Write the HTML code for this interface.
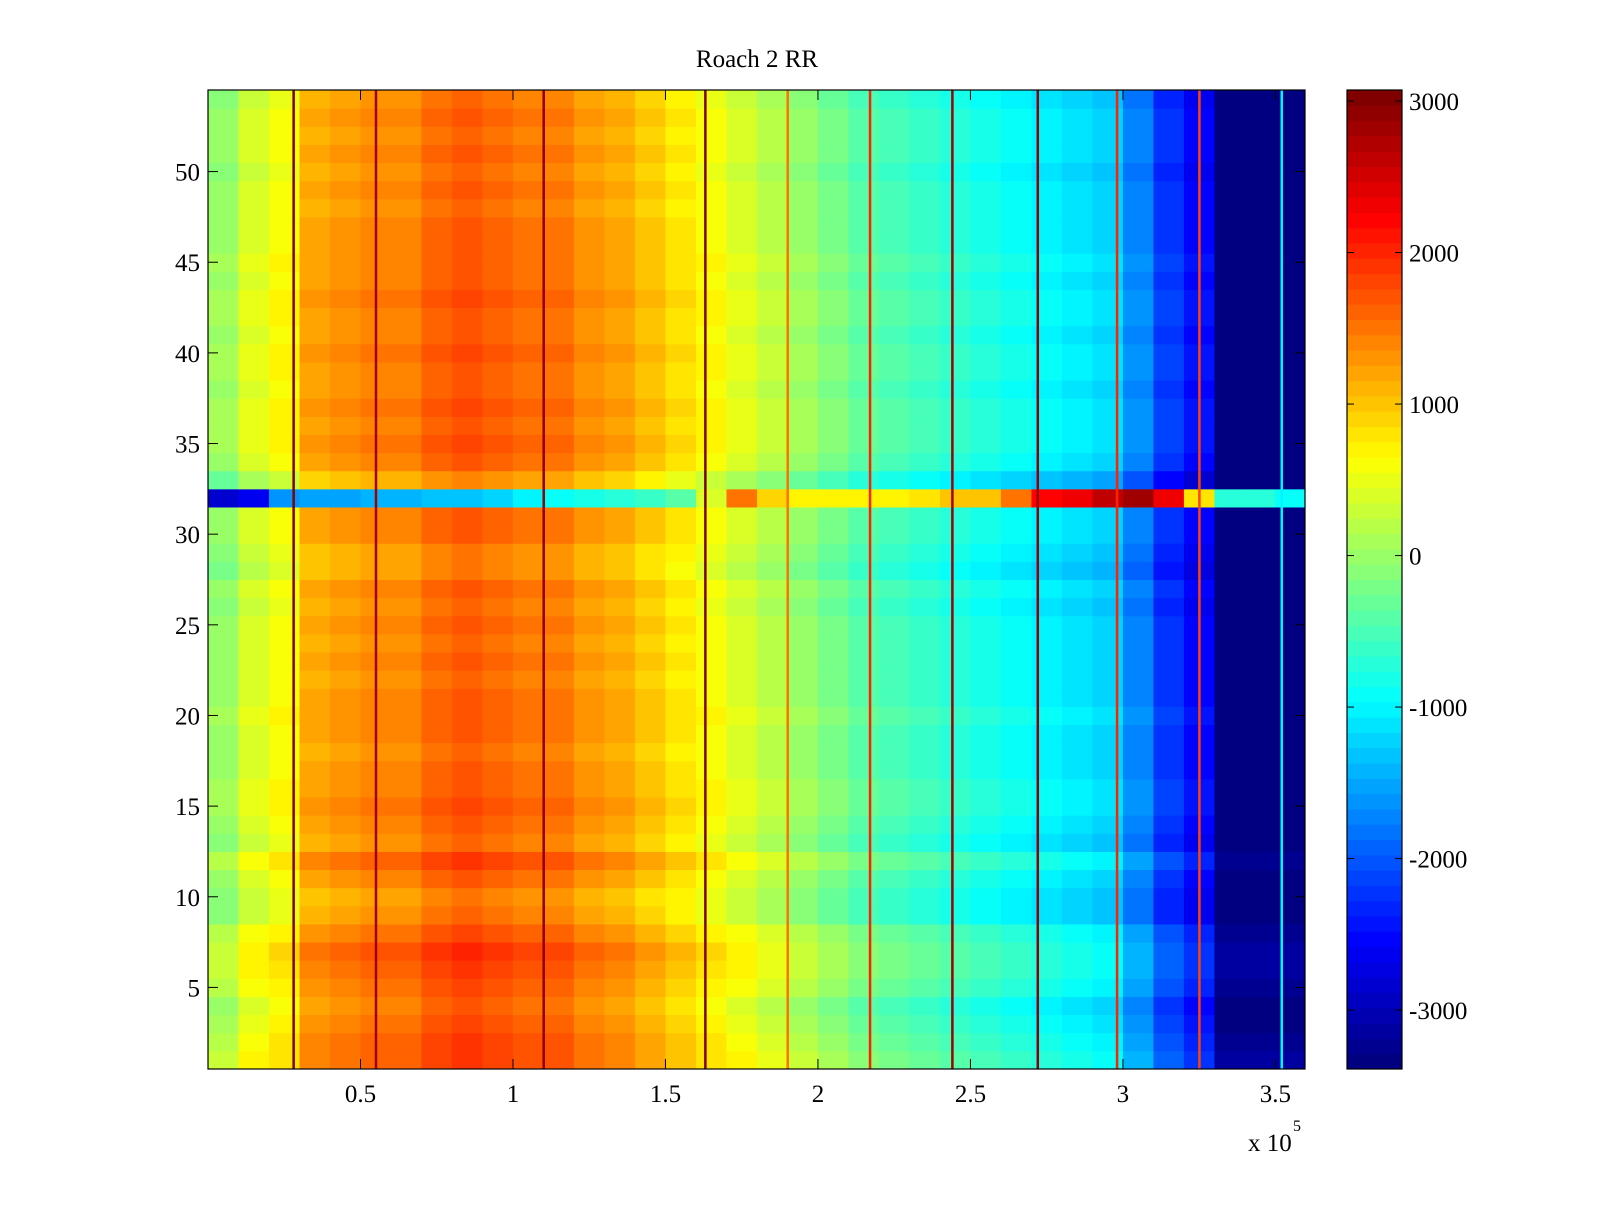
<!DOCTYPE html>
<html><head><meta charset="utf-8"><style>
body{margin:0;background:#fff;width:1600px;height:1200px;overflow:hidden;font-family:"Liberation Serif",serif;}
svg text{font-family:"Liberation Serif",serif;font-size:25px;fill:#000;}
</style></head><body>
<svg id="chart" width="1600" height="1200" xmlns="http://www.w3.org/2000/svg">
<text x="757" y="67" text-anchor="middle">Roach 2 RR</text>
<g id="cells"></g>
<g id="cbar"></g>
<g id="axes"></g>
<text x="1248" y="1151">x 10</text>
<text x="1293" y="1131" style="font-size:16px">5</text>
</svg>
<script>
// x bins of 0.1e5 each (0..3.6e5)
const colProfile=[0,400,600,1200,1300,1400,1400,1600,1700,1600,1500,1500,1300,1200,1000,800,600,400,200,0,-200,-400,-500,-600,-700,-800,-900,-1000,-1100,-1200,-1700,-2200,-2500,-3400,-3400,-3400];
// row offsets rows 1..54
const rowOffset=[250,200,100,0,150,250,300,150,-100,-150,0,200,-100,0,100,50,0,-50,0,50,0,-50,0,-50,0,-100,0,-200,-150,0,0,0,-300,0,100,50,100,0,50,100,0,50,100,0,50,0,0,-50,0,-100,0,-50,0,-100];
// special row 32 values per bin
const row32=[-2800,-2600,-1600,-1500,-1500,-1400,-1400,-1300,-1300,-1200,-1000,-900,-800,-700,-600,-400,400,1500,900,700,700,700,700,800,1000,1000,1500,2200,2300,2600,2800,2300,800,-700,-700,-900];
// thin vertical line features (x in units of 1e5, value)
const lineX=[0.28,0.55,1.1,1.63,1.9,2.17,2.44,2.72,2.98,3.25,3.52];
const lineV=[3000,2800,2900,3000,1500,2000,2800,2900,2000,1800,-1000];
const xTicks=[0.5,1,1.5,2,2.5,3,3.5], xTickLabels=["0.5","1","1.5","2","2.5","3","3.5"];
const yTicks=[5,10,15,20,25,30,35,40,45,50];
const cTicks=[3000,2000,1000,0,-1000,-2000,-3000];

const L=208,R=1305,T=90,B=1069,XMAX=3.597,CMIN=-3389,CMAX=3073;
const xs=v=>L+v/XMAX*(R-L);
const rowH=(B-T)/54;
const ys=r=>B-r*rowH;
function jet(v){let t=(v-CMIN)/(CMAX-CMIN);t=Math.max(0,Math.min(1,t));t=Math.floor(t*63.999)/63;
 const f=x=>Math.round(255*Math.max(0,Math.min(1,1.5-Math.abs(4*t-x))));return `rgb(${f(3)},${f(2)},${f(1)})`;}
const NS="http://www.w3.org/2000/svg";
function mk(tag,attrs,parent){const e=document.createElementNS(NS,tag);for(const k in attrs)e.setAttribute(k,attrs[k]);parent.appendChild(e);return e;}
const cells=document.getElementById('cells');
for(let r=1;r<=54;r++){for(let j=0;j<colProfile.length;j++){
 const v=r===32?row32[j]:colProfile[j]+rowOffset[r-1];
 const x0=xs(j*0.1),x1=Math.min(R,xs((j+1)*0.1));
 if(x1<=x0)continue;
 const e=mk('rect',{x:x0,y:ys(r),width:x1-x0+0.5,height:rowH+0.5,fill:jet(v)},cells);
 
 
}}
for(let i=0;i<lineX.length;i++){
 const e=mk('rect',{x:xs(lineX[i])-1,y:T,width:2.5,height:B-T,fill:jet(lineV[i])},cells);
 
 
}
const ax=document.getElementById('axes');
mk('rect',{x:L,y:T,width:R-L,height:B-T,fill:'none',stroke:'#000','stroke-width':1.2},ax);
xTicks.forEach((t,i)=>{const x=xs(t);
 mk('line',{x1:x,x2:x,y1:B,y2:B-10,stroke:'#000'},ax);mk('line',{x1:x,x2:x,y1:T,y2:T+10,stroke:'#000'},ax);
 const e=mk('text',{x:x,y:B+33,'text-anchor':'middle'},ax);e.textContent=xTickLabels[i];
 
 });
yTicks.forEach(t=>{const y=B-(t-0.5)*rowH;
 mk('line',{x1:L,x2:L+10,y1:y,y2:y,stroke:'#000'},ax);mk('line',{x1:R,x2:R-10,y1:y,y2:y,stroke:'#000'},ax);
 const e=mk('text',{x:L-8,y:y+9,'text-anchor':'end'},ax);e.textContent=t;
 
 });
const cb=document.getElementById('cbar');const CL=1347,CR=1402;
const cy=v=>B-(v-CMIN)/(CMAX-CMIN)*(B-T);
for(let k=0;k<64;k++){const v0=CMIN+k*(CMAX-CMIN)/64,v1=CMIN+(k+1)*(CMAX-CMIN)/64;
 const e=mk('rect',{x:CL,y:cy(v1),width:CR-CL,height:cy(v0)-cy(v1)+0.5,fill:jet((v0+v1)/2)},cb);
 
 }
mk('rect',{x:CL,y:T,width:CR-CL,height:B-T,fill:'none',stroke:'#000','stroke-width':1.2},cb);
cTicks.forEach(t=>{const y=cy(t);
 mk('line',{x1:CL,x2:CL+7,y1:y,y2:y,stroke:'#000'},cb);mk('line',{x1:CR,x2:CR-7,y1:y,y2:y,stroke:'#000'},cb);
 const e=mk('text',{x:CR+7,y:y+9},cb);e.textContent=t;
 
 });
</script>
</body></html>
